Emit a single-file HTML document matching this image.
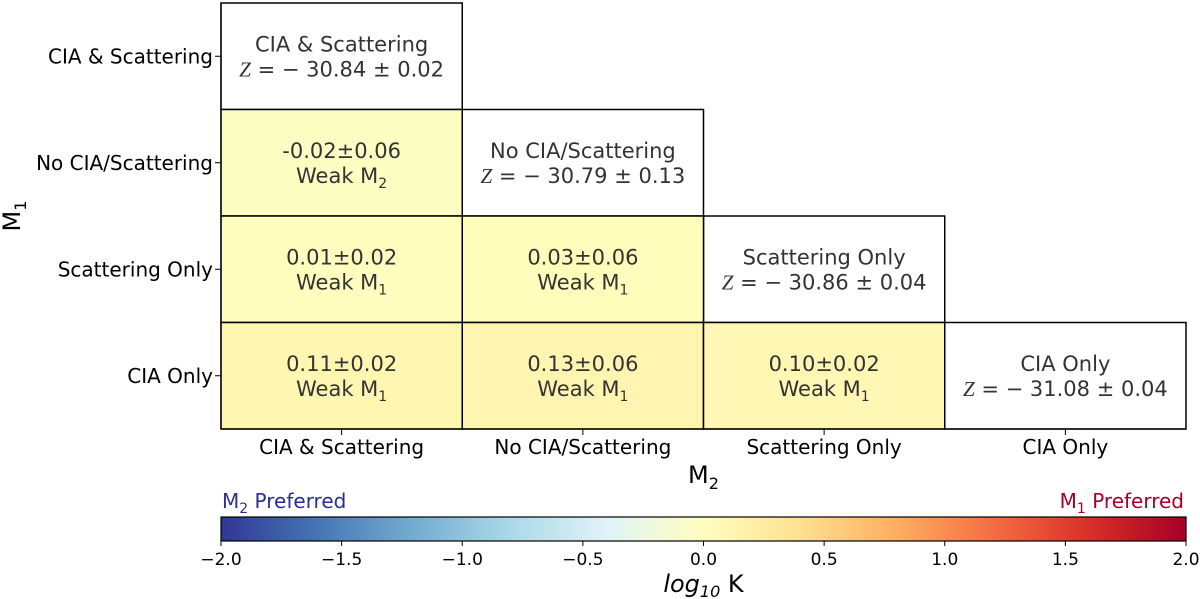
<!DOCTYPE html>
<html><head><meta charset="utf-8"><style>
html,body{margin:0;padding:0;background:#fff;}
svg{display:block;font-family:"DejaVu Sans","Liberation Sans",sans-serif;}
</style></head><body>
<svg id="c" width="1200" height="599" viewBox="0 0 1200 599" xmlns="http://www.w3.org/2000/svg">
<defs><linearGradient id="cmap" x1="0" x2="1" y1="0" y2="0"></linearGradient></defs>
</svg>
<script>
const models = ["CIA & Scattering","No CIA/Scattering","Scattering Only","CIA Only"];
const evidence = ["− 30.84 ± 0.02","− 30.79 ± 0.13","− 30.86 ± 0.04","− 31.08 ± 0.04"];
const cellRows = [1,2,2,3,3,3];
const cellCols = [0,0,1,0,1,2];
const cellValues = [-0.02,0.01,0.03,0.11,0.13,0.10];
const cellErrors = ["0.06","0.02","0.06","0.02","0.06","0.02"];
const cellLabels = ["2","1","1","1","1","1"];
const cbTicks = [-2.0,-1.5,-1.0,-0.5,0.0,0.5,1.0,1.5,2.0];
const cmapColors = ["#313695","#4575b4","#74add1","#abd9e9","#e0f3f8","#ffffbf","#fee090","#fdae61","#f46d43","#d73027","#a50026"];

const NS="http://www.w3.org/2000/svg";
const svg=document.getElementById('c');
function mk(t,a,p){const e=document.createElementNS(NS,t);for(const k in a)e.setAttribute(k,a[k]);(p||svg).appendChild(e);return e;}
const X0=221,X1=1186,Y0=3,Y1=429;
const cw=(X1-X0)/4, rh=(Y1-Y0)/4;
const xc=i=>X0+i*cw, yr=i=>Y0+i*rh;
const vmin=-2,vmax=2;
function hex(h){return [1,3,5].map(i=>parseInt(h.substr(i,2),16));}
function cmap(v){let t=(v-vmin)/(vmax-vmin);t=Math.max(0,Math.min(1,t));const s=t*10,i=Math.min(9,Math.floor(s)),f=s-i;const a=hex(cmapColors[i]),b=hex(cmapColors[i+1]);return 'rgb('+a.map((x,k)=>Math.round(x+(b[k]-x)*f)).join(',')+')';}
const cbX=x=>X0+(x-vmin)/(vmax-vmin)*(X1-X0);
const FS=21;

models.forEach((m,i)=>{
  const g=mk('g',{});
  
  
  mk('rect',{x:xc(i),y:yr(i),width:cw,height:rh,fill:'#fff',stroke:'#000','stroke-width':1.5},g);
  const t1=mk('text',{x:xc(i)+cw/2,y:yr(i)+rh/2-5,'text-anchor':'middle','font-size':FS,fill:'#333'},g);t1.textContent=m;
  const t2=mk('text',{x:xc(i)+cw/2,y:yr(i)+rh/2+20,'text-anchor':'middle','font-size':FS,fill:'#333'},g);
  t2.innerHTML='<tspan font-family="Liberation Serif,serif" font-style="italic">Z</tspan> = '+evidence[i];
});
cellValues.forEach((v,k)=>{
  const r=cellRows[k],c=cellCols[k];
  const g=mk('g',{});
  
  
  mk('rect',{x:xc(c),y:yr(r),width:cw,height:rh,fill:cmap(v),stroke:'#000','stroke-width':1.5},g);
  const t1=mk('text',{x:xc(c)+cw/2,y:yr(r)+rh/2-5,'text-anchor':'middle','font-size':FS,fill:'#333'},g);
  t1.textContent=v.toFixed(2)+'±'+cellErrors[k];
  const t2=mk('text',{x:xc(c)+cw/2,y:yr(r)+rh/2+20,'text-anchor':'middle','font-size':FS,fill:'#333'},g);
  t2.innerHTML='Weak M<tspan font-size="14" dy="5">'+cellLabels[k]+'</tspan>';
});
mk('line',{x1:X0,y1:Y1,x2:X1,y2:Y1,stroke:'#000','stroke-width':1.2});
mk('line',{x1:X0,y1:Y0,x2:X0,y2:Y1,stroke:'#000','stroke-width':1.2});
models.forEach((m,i)=>{
  mk('line',{x1:xc(i)+cw/2,y1:Y1,x2:xc(i)+cw/2,y2:Y1+6,stroke:'#000'});
  const t=mk('text',{x:xc(i)+cw/2,y:Y1+25,'text-anchor':'middle','font-size':20,fill:'#000'});t.textContent=m;
  
  mk('line',{x1:X0-6,y1:yr(i)+rh/2,x2:X0,y2:yr(i)+rh/2,stroke:'#000'});
  const u=mk('text',{x:X0-8,y:yr(i)+rh/2+7,'text-anchor':'end','font-size':20,fill:'#000'});u.textContent=m;
  
});
const xt=mk('text',{x:(X0+X1)/2,y:483,'text-anchor':'middle','font-size':24});xt.innerHTML='M<tspan font-size="16" dy="6">2</tspan>';

const yt=mk('text',{x:0,y:0,'text-anchor':'middle','font-size':24,transform:'translate(20,'+((Y0+Y1)/2)+') rotate(-90)'});yt.innerHTML='M<tspan font-size="16" dy="6">1</tspan>';


const grad=document.getElementById('cmap');
cmapColors.forEach((c,i)=>mk('stop',{offset:(i*10)+'%','stop-color':c},grad));
const CB0=517,CB1=541;
const cb=mk('rect',{x:X0,y:CB0,width:X1-X0,height:CB1-CB0,fill:'url(#cmap)',stroke:'#000','stroke-width':1.2});

cbTicks.forEach(v=>{
  mk('line',{x1:cbX(v),y1:CB1,x2:cbX(v),y2:CB1+5,stroke:'#000'});
  const t=mk('text',{x:cbX(v),y:565,'text-anchor':'middle','font-size':17});t.textContent=(v<0?'−':'')+Math.abs(v).toFixed(1);
  
});
const cl=mk('text',{x:(X0+X1)/2,y:592,'text-anchor':'middle','font-size':24});cl.innerHTML='<tspan font-style="italic">log</tspan><tspan font-size="16" dy="5" font-style="italic">10</tspan><tspan dy="-5"> K</tspan>';

const l2=mk('text',{x:X0+1,y:508,'font-size':20,fill:'#2b2f8f'});l2.innerHTML='M<tspan font-size="14" dy="5">2</tspan><tspan dy="-5"> Preferred</tspan>';

const l1=mk('text',{x:X1-2,y:508,'text-anchor':'end','font-size':20,fill:'#a50026'});l1.innerHTML='M<tspan font-size="14" dy="5">1</tspan><tspan dy="-5"> Preferred</tspan>';

</script>
</body></html>
